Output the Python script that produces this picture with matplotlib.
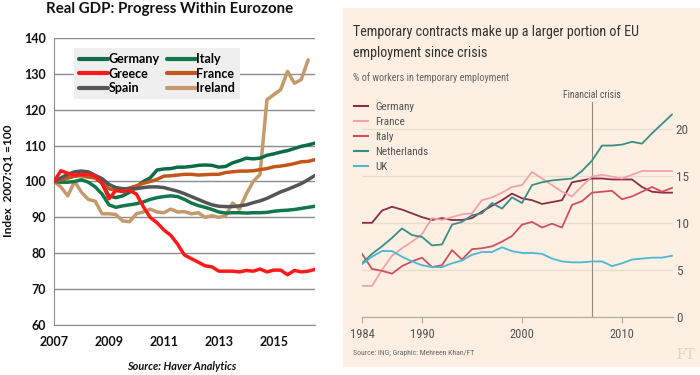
import matplotlib
matplotlib.use("Agg")
import matplotlib.pyplot as plt
from matplotlib.patches import Rectangle
import numpy as np

# ---------------- Left chart data: Real GDP index, quarterly from 2007Q1 ----------------
gdp_start_year = 2007.0
gdp_germany = [100, 100.5, 101, 101.5, 102, 101.5, 101, 99.5, 96, 95.5,
               96, 97, 98.5, 100, 101, 103.2, 103.5, 103.6, 104, 104,
               104.2, 104.5, 104.6, 104.5, 104, 104.2, 105.2, 105.8, 106.5, 106.3,
               106.5, 107.3, 107.7, 108.2, 108.6, 109.2, 109.8, 110.2, 110.7]
gdp_italy = [100, 99.8, 99.8, 100, 100.5, 99.8, 98.5, 96.5, 93.5, 92.8,
             93.2, 93.5, 93.8, 94.3, 95, 95.5, 95.8, 96, 95.8, 95,
             94, 93.3, 92.8, 92.2, 91.5, 91.2, 91.3, 91.3, 91.2, 91.3,
             91.3, 91.4, 91.7, 91.9, 92, 92.2, 92.5, 92.8, 93.1]
gdp_greece = [100, 103, 102.3, 101.8, 102, 102, 101.5, 99.5, 95.2, 97.5,
              97.2, 97.5, 96.5, 93, 90, 88.5, 86.5, 85, 82.5, 79.5,
              78.5, 77.5, 76.5, 76.2, 75, 75, 75, 74.8, 75.2, 75,
              75.6, 74.8, 75.3, 75.3, 74, 75.2, 74.8, 75, 75.5]
gdp_france = [100, 100.5, 101, 101.5, 101.6, 101.2, 101, 99.8, 98, 97.5,
              97.6, 98.2, 98.8, 99.5, 100, 100.6, 101.5, 101.6, 101.8, 102,
              102, 101.8, 101.9, 102, 102, 102.5, 102.7, 102.9, 102.9, 103,
              103.3, 103.6, 104.1, 104.3, 104.6, 105, 105.5, 105.6, 106.1]
gdp_spain = [100, 101, 102, 102.7, 102.9, 102.7, 101.7, 100.8, 99.2, 98.3,
             98, 98, 98, 98.3, 98.5, 98.5, 98.3, 97.8, 97.3, 96.6,
             95.8, 95, 94.2, 93.5, 93.1, 93, 93, 93.2, 93.5, 94.1,
             94.6, 95.3, 96.2, 97.1, 97.8, 98.6, 99.4, 100.5, 101.7]
gdp_ireland = [100, 98.5, 96, 100, 97, 95, 94.5, 91, 91, 90.8,
               89, 88.8, 91, 91.5, 92.3, 91.5, 91.3, 92.3, 91.5, 91.6,
               91, 91.3, 90, 90.5, 90, 90.5, 94, 92.3, 96.5, 100,
               102, 122.8, 124.2, 125.6, 130.7, 127.4, 128.4, 133.9]
gdp_names = ["Germany", "Italy", "Greece", "France", "Spain", "Ireland"]
gdp_yticks = [60, 70, 80, 90, 100, 110, 120, 130, 140]
gdp_xticks = [2007, 2009, 2011, 2013, 2015]

# ---------------- Right chart data: % of workers in temporary employment ----------------
tmp_years = list(range(1984, 2016))
tmp_germany = [10.0, 10.0, 11.3, 11.7, 11.4, 11.0, 10.6, 10.3, 10.5, 10.3,
               10.3, 10.5, 11.2, 11.8, 12.4, 13.1, 12.6, 12.4, 12.0, 12.2,
               12.4, 14.3, 14.5, 14.7, 14.7, 14.6, 14.6, 14.6, 13.8, 13.3,
               13.2, 13.2]
tmp_france = [3.3, 3.3, 5.0, 6.5, 7.3, 8.0, 8.8, 10.5, 10.3, 10.6,
              10.9, 11.0, 12.4, 12.7, 13.2, 13.8, 14.0, 15.4, 14.7, 14.0,
              13.3, 12.8, 13.9, 14.9, 15.1, 14.9, 14.7, 15.1, 15.5, 15.5,
              15.5, 15.5]
tmp_italy = [6.7, 5.1, 4.9, 4.6, 5.4, 5.9, 6.3, 5.3, 5.5, 7.1,
             6.1, 7.2, 7.3, 7.5, 8.0, 8.6, 9.8, 10.1, 9.5, 9.9,
             9.5, 11.9, 12.3, 13.2, 13.3, 13.4, 12.5, 12.8, 13.3, 13.8,
             13.3, 13.7]
tmp_netherlands = [5.7, 6.7, 7.5, 8.4, 9.4, 8.7, 8.5, 7.6, 7.7, 9.8,
                   10.1, 10.8, 11.0, 12.1, 11.5, 12.7, 12.1, 14.0, 14.3, 14.5,
                   14.6, 14.7, 15.5, 16.6, 18.2, 18.2, 18.3, 18.6, 18.4, 19.5,
                   20.5, 21.5]
tmp_uk = [5.6, 6.4, 7.0, 7.0, 6.4, 5.9, 5.5, 5.3, 5.3, 5.7,
          6.0, 6.6, 6.9, 6.9, 7.4, 7.0, 6.8, 6.8, 6.7, 6.2,
          5.9, 5.8, 5.8, 5.9, 5.9, 5.4, 5.7, 6.1, 6.2, 6.3,
          6.3, 6.5]
tmp_names = ["Germany", "France", "Italy", "Netherlands", "UK"]
tmp_yticks = [0, 5, 10, 15, 20]
tmp_xticks = [1984, 1990, 2000, 2010]
crisis_year = 2007

# ---------------- figure helpers ----------------
W, H = 700, 375
fig = plt.figure(figsize=(W / 100, H / 100), dpi=100)
fig.patch.set_facecolor("white")
renderer = fig.canvas.get_renderer()


def fx(px):
    return px / W


def fy(py):
    return 1 - py / H


def fit_width(txt, target_px):
    """Scale a text's font size so its rendered width is target_px."""
    w = txt.get_window_extent(renderer=renderer).width
    if w > 0:
        txt.set_fontsize(txt.get_fontsize() * target_px / w)


LFONT = "Lato"
RFONT = ["Roboto Condensed", "Liberation Sans Narrow", "Open Sans Condensed",
         "Roboto", "DejaVu Sans"]

# ================= LEFT CHART =================
axL = fig.add_axes([fx(54), fy(325), (315 - 54) / W, (325 - 38) / H])
qL = gdp_start_year + 0.25 * np.arange(len(gdp_germany))
series_L = [gdp_germany, gdp_italy, gdp_greece, gdp_france, gdp_spain, gdp_ireland]
colors_L = ["#0e6b47", "#13774c", "#ff1a1a", "#c4561d", "#555555", "#c49a6c"]
order = [5, 1, 0, 3, 4, 2]  # drawing order (Greece on top)
lines = {}
for i in order:
    vals = series_L[i]
    ln, = axL.plot(qL[:len(vals)], vals, color=colors_L[i], lw=2.5,
                   solid_capstyle="round", solid_joinstyle="round",
                   label=gdp_names[i], zorder=3 + order.index(i))
    lines[gdp_names[i]] = ln

axL.set_xlim(2007, qL[-1])
axL.set_ylim(60, 140)
axL.set_yticks(gdp_yticks)
axL.set_xticks(gdp_xticks)
axL.yaxis.grid(True, color="#8c8c8c", lw=1.0)
axL.set_axisbelow(True)
for s in ["top", "right"]:
    axL.spines[s].set_visible(False)
axL.spines["left"].set_color("#8c8c8c")
axL.spines["bottom"].set_color("#8c8c8c")
axL.tick_params(length=0, labelsize=9, pad=6)
axL.tick_params(axis="x", pad=8)
for lab in axL.get_xticklabels() + axL.get_yticklabels():
    lab.set_fontfamily(LFONT)
    lab.set_fontweight("bold")
    lab.set_color("#111111")

# column-first fill: col 1 = Germany, Greece, Spain; col 2 = Italy, France, Ireland
leg_order = ["Germany", "Greece", "Spain", "Italy", "France", "Ireland"]
legL = axL.legend([lines[n] for n in leg_order], leg_order, ncol=2,
                  loc="upper left", bbox_to_anchor=(fx(74), fy(48)),
                  bbox_transform=fig.transFigure,
                  prop={"family": LFONT, "weight": "bold", "size": 9},
                  frameon=True, fancybox=False, handlelength=2.3,
                  handletextpad=0.05, columnspacing=0.6, labelspacing=0.2,
                  borderpad=0.4, borderaxespad=0)
legL.get_frame().set_facecolor("#efefef")
legL.get_frame().set_edgecolor("none")
legL.get_frame().set_alpha(1)
legL.set_zorder(20)
for h in legL.legend_handles:
    h.set_linewidth(3.0)

fig.text(fx(170), fy(9), "Real GDP: Progress Within Eurozone", ha="center",
         va="center", fontfamily=LFONT, fontweight="bold", fontsize=10.8,
         color="#111111")
fig.text(fx(8), fy(181), "Index  2007:Q1 =100", rotation=90, ha="center",
         va="center", fontfamily=LFONT, fontweight="bold", fontsize=8.6,
         color="#111111")
fig.text(fx(182), fy(366), "Source: Haver Analytics", ha="center", va="center",
         fontfamily=LFONT, fontweight="bold", fontstyle="italic", fontsize=7.8,
         color="#111111")

# ================= RIGHT CHART =================
BG = "#fdf0e2"
fig.patches.append(Rectangle((fx(343), fy(367)), (700 - 343) / W, (367 - 8) / H,
                             transform=fig.transFigure, facecolor=BG,
                             edgecolor="none", zorder=-5))

y0_px, per_unit = 317, 47.1 / 5
ytop = 22
axR = fig.add_axes([fx(362), fy(y0_px), (673 - 362) / W, ytop * per_unit / H])
axR.set_facecolor("none")
axR.set_zorder(1)
series_R = [tmp_germany, tmp_france, tmp_italy, tmp_netherlands, tmp_uk]
colors_R = ["#8c2c47", "#f2a3aa", "#d24f5e", "#3b8e88", "#4cb7d6"]
linesR = []
for i, vals in enumerate(series_R):
    ln, = axR.plot(tmp_years, vals, color=colors_R[i], lw=1.3,
                   label=tmp_names[i], zorder=3)
    linesR.append(ln)

axR.set_xlim(tmp_years[0], tmp_years[-1] + 0.1)
axR.set_ylim(0, ytop)
axR.set_yticks(tmp_yticks)
axR.set_xticks(tmp_xticks)
axR.yaxis.grid(True, color="#e9dccb", lw=0.9)
axR.set_axisbelow(True)
for s in ["top", "right", "left"]:
    axR.spines[s].set_visible(False)
axR.spines["bottom"].set_color("#b3aca4")
axR.spines["bottom"].set_linewidth(0.9)
axR.yaxis.tick_right()
axR.tick_params(axis="y", length=0, pad=2, labelsize=9.5, labelcolor="#555555")
axR.tick_params(axis="x", length=4, width=0.8, color="#b3aca4", pad=4,
                labelsize=9, labelcolor="#555555")
for lab in axR.get_xticklabels() + axR.get_yticklabels():
    lab.set_fontfamily(RFONT)

axR.plot([crisis_year, crisis_year], [0, 22.8], color="#8f8a84", lw=0.8,
         clip_on=False, zorder=2)
t_crisis = axR.text(crisis_year, 23.0, "Financial crisis", ha="center", va="bottom",
                    fontfamily=RFONT, fontsize=8.5, color="#555555")
fit_width(t_crisis, 58)

legR = axR.legend(handles=linesR, loc="upper left",
                  bbox_to_anchor=(fx(354), fy(102)), bbox_transform=fig.transFigure,
                  prop={"family": RFONT, "size": 8.0}, frameon=False,
                  handlelength=1.3, handletextpad=0.6, labelspacing=0.45,
                  borderpad=0, borderaxespad=0)
for t in legR.get_texts():
    t.set_color("#555555")
for h in legR.legend_handles:
    h.set_linewidth(1.5)

t1 = fig.text(fx(353), fy(32), "Temporary contracts make up a larger portion of EU",
              ha="left", va="center", fontfamily=RFONT, fontsize=11.5, color="#333333")
fit_width(t1, 288)
fig.text(fx(353), fy(53), "employment since crisis", ha="left", va="center",
         fontfamily=RFONT, fontsize=t1.get_fontsize(), color="#333333")
t3 = fig.text(fx(353), fy(78), "% of workers in temporary employment", ha="left",
              va="center", fontfamily=RFONT, fontsize=8, color="#666666")
fit_width(t3, 155)
t4 = fig.text(fx(353), fy(353), "Source: ING; Graphic: Mehreen Khan/FT", ha="left",
              va="center", fontfamily=RFONT, fontsize=6.5, color="#666666")
fit_width(t4, 122)
fig.text(fx(686), fy(355), "FT", ha="center", va="center", fontfamily="DejaVu Serif",
         fontsize=10, color="#ddd3c7")

fig.savefig("out.png", dpi=100, facecolor="white")
